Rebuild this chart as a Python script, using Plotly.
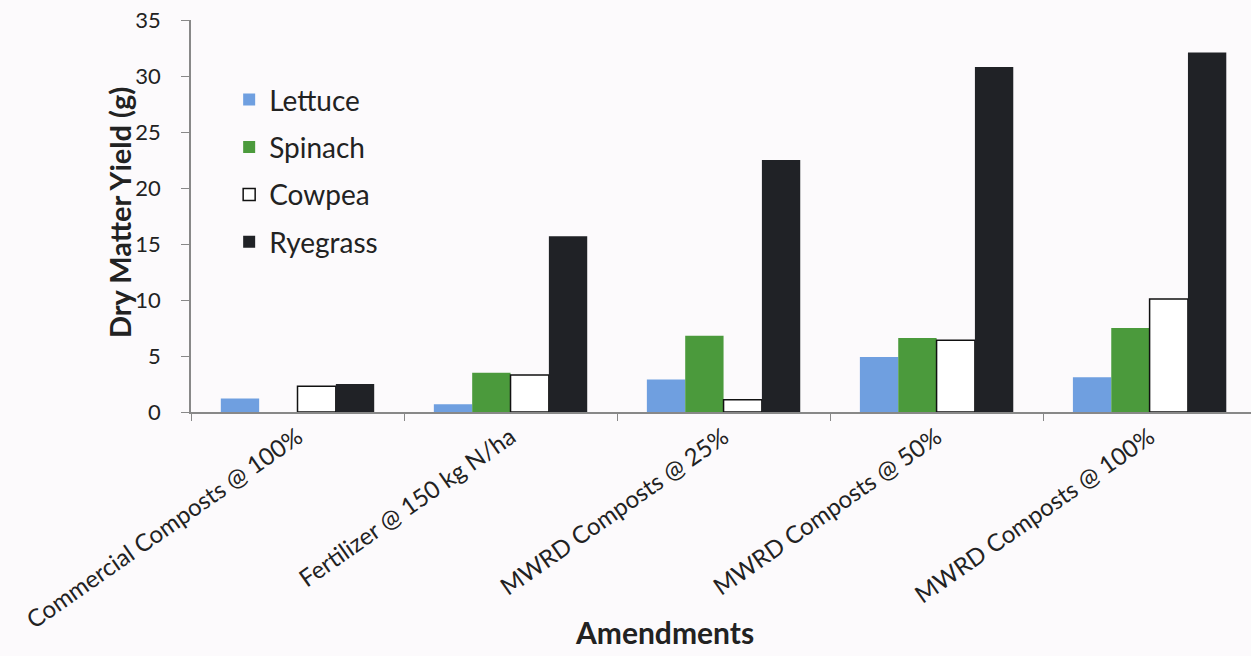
import plotly.graph_objects as go

categories = ["Commercial Composts @ 100%", "Fertilizer @ 150 kg N/ha",
              "MWRD Composts @ 25%", "MWRD Composts @ 50%", "MWRD Composts @ 100%"]
lettuce = [1.2, 0.7, 2.9, 4.9, 3.1]
spinach = [0.0, 3.5, 6.8, 6.6, 7.5]
cowpea = [2.3, 3.3, 1.1, 6.4, 10.1]
ryegrass = [2.5, 15.7, 22.5, 30.8, 32.1]
y_ticks = [0, 5, 10, 15, 20, 25, 30, 35]

FONT = "Lato"
fig = go.Figure()
series = [
    ("Lettuce", lettuce, "#6f9fe0", "#6f9fe0", 0),
    ("Spinach", spinach, "#4b9a3c", "#4b9a3c", 0),
    ("Cowpea", cowpea, "#ffffff", "#111111", 1.5),
    ("Ryegrass", ryegrass, "#202226", "#202226", 0),
]
for name, vals, fill, line, lw in series:
    fig.add_trace(go.Bar(
        x=categories, y=vals, name=name, legendgroup=name,
        marker=dict(color=fill, line=dict(color=line, width=lw)),
    ))

fig.update_layout(
    width=1251, height=656,
    margin=dict(l=191, r=0, t=20, b=244),
    paper_bgcolor="#fcfafc", plot_bgcolor="#fcfafc",
    barmode="group", bargap=0.28, bargroupgap=0,
    font=dict(family=FONT, size=24, color="#222222"),
    showlegend=True,
    legend=dict(x=0.036, y=0.86, xanchor="left", yanchor="top",
                font=dict(size=28, color="#222222"),
                bgcolor="rgba(0,0,0,0)", tracegroupgap=8,
                traceorder="grouped"),
    annotations=[
        dict(text="<b>Amendments</b>", xref="paper", yref="paper",
             x=0.447, y=-0.561, xanchor="center", yanchor="middle",
             showarrow=False, font=dict(size=30, color="#222222")),
        dict(text="<b>Dry Matter Yield (g)</b>", xref="paper", yref="paper",
             x=-0.0680, y=0.51, xanchor="center", yanchor="middle",
             textangle=-90, showarrow=False, font=dict(size=29, color="#222222")),
    ],
)
fig.update_xaxes(
    range=[-0.5, 4.476], tickson="boundaries", ticks="outside", ticklen=7,
    tickcolor="#888888", showline=True, linecolor="#888888", linewidth=1.5,
    tickangle=-35, tickfont=dict(size=24),
    showgrid=False, zeroline=False,
)
fig.update_yaxes(
    range=[0, 35], tickvals=y_ticks, ticks="outside", ticklen=8,
    tickcolor="#888888", showline=True, linecolor="#888888", linewidth=1.5,
    tickfont=dict(size=22), ticklabelstandoff=16,
    showgrid=False, zeroline=False,
)
fig.write_html("out.html")
